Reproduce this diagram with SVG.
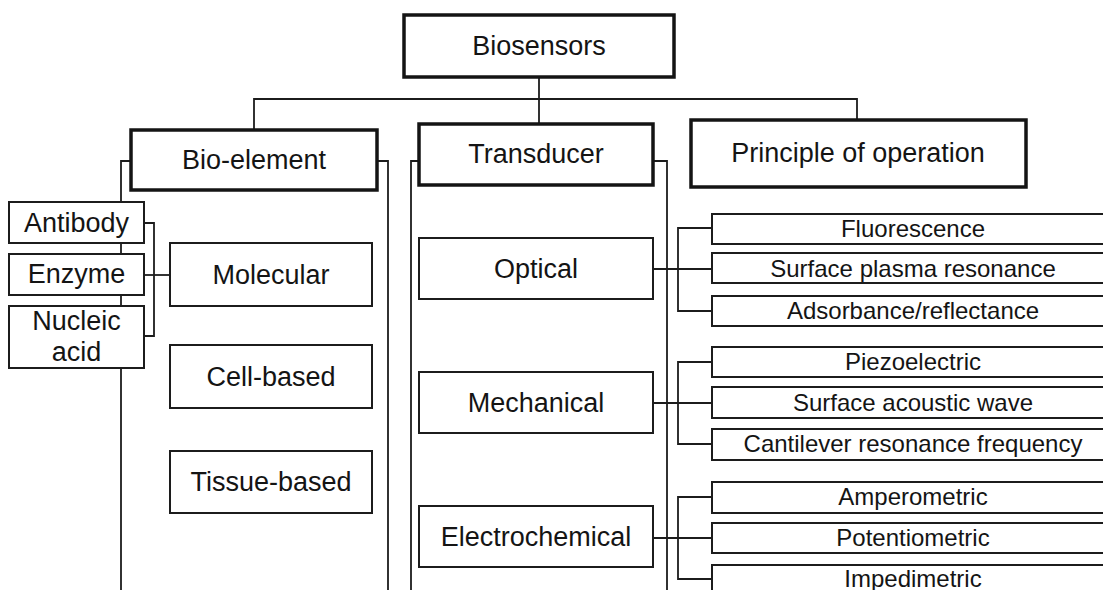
<svg xmlns="http://www.w3.org/2000/svg" width="1103" height="590" viewBox="0 0 1103 590">
  <style>
    .bg { fill: #ffffff; }
    .conn { fill: none; stroke: #1c1c1c; stroke-width: 1.8; }
    .main rect { fill: #ffffff; stroke: #141414; stroke-width: 3.5; }
    .box rect { fill: #ffffff; stroke: #1c1c1c; stroke-width: 2; }
    text { font-family: "Liberation Sans", Arial, Helvetica, sans-serif; fill: #141414; text-anchor: middle; }
    .lg { font-size: 27px; }
    .sm { font-size: 24px; }
  </style>

  <rect class="bg" x="0" y="0" width="1103" height="590"/>

  <!-- connectors -->
  <g id="connectors">
    <!-- root to the three categories -->
    <path class="conn" d="M539 77 V124"/>
    <path class="conn" d="M254 130 V99 H857 V120"/>
    <!-- side rails of Bio-element -->
    <path class="conn" d="M131 161 H121 V590"/>
    <path class="conn" d="M377 161 H388 V590"/>
    <!-- side rails of Transducer -->
    <path class="conn" d="M419 161 H411 V590"/>
    <path class="conn" d="M653 161 H667 V590"/>
    <!-- molecular receptors -->
    <path class="conn" d="M144 223 H154 V336 H144"/>
    <path class="conn" d="M144 275 H170"/>
    <!-- optical methods -->
    <path class="conn" d="M712 228 H678 V311 H712"/>
    <path class="conn" d="M653 269 H712"/>
    <!-- mechanical methods -->
    <path class="conn" d="M712 362 H678 V444 H712"/>
    <path class="conn" d="M653 403 H712"/>
    <!-- electrochemical methods -->
    <path class="conn" d="M712 497 H678 V579 H712"/>
    <path class="conn" d="M653 538 H712"/>
  </g>

  <!-- top level -->
  <g id="biosensors" class="main">
    <rect x="404" y="15" width="270" height="62"/>
    <text class="lg" x="539" y="54.5">Biosensors</text>
  </g>
  <g id="bio-element" class="main">
    <rect x="131" y="130" width="246" height="60"/>
    <text class="lg" x="254" y="169">Bio-element</text>
  </g>
  <g id="transducer" class="main">
    <rect x="419" y="124" width="234" height="61"/>
    <text class="lg" x="536" y="163">Transducer</text>
  </g>
  <g id="principle" class="main">
    <rect x="691" y="120" width="335" height="67"/>
    <text class="lg" x="858" y="162">Principle of operation</text>
  </g>

  <!-- bio-element branch -->
  <g id="antibody" class="box">
    <rect x="9" y="202" width="135" height="41"/>
    <text class="lg" x="76.5" y="231.5">Antibody</text>
  </g>
  <g id="enzyme" class="box">
    <rect x="9" y="254" width="135" height="41"/>
    <text class="lg" x="76.5" y="283">Enzyme</text>
  </g>
  <g id="nucleic-acid" class="box">
    <rect x="9" y="306" width="135" height="62"/>
    <text class="lg" x="76.5" y="330">Nucleic</text>
    <text class="lg" x="76.5" y="361">acid</text>
  </g>
  <g id="molecular" class="box">
    <rect x="170" y="243" width="202" height="63"/>
    <text class="lg" x="271" y="284">Molecular</text>
  </g>
  <g id="cell-based" class="box">
    <rect x="170" y="345" width="202" height="63"/>
    <text class="lg" x="271" y="385.5">Cell-based</text>
  </g>
  <g id="tissue-based" class="box">
    <rect x="170" y="451" width="202" height="62"/>
    <text class="lg" x="271" y="491">Tissue-based</text>
  </g>

  <!-- transducer branch -->
  <g id="optical" class="box">
    <rect x="419" y="238" width="234" height="61"/>
    <text class="lg" x="536" y="278">Optical</text>
  </g>
  <g id="mechanical" class="box">
    <rect x="419" y="372" width="234" height="61"/>
    <text class="lg" x="536" y="412">Mechanical</text>
  </g>
  <g id="electrochemical" class="box">
    <rect x="419" y="506" width="234" height="61"/>
    <text class="lg" x="536" y="546">Electrochemical</text>
  </g>

  <!-- principle of operation leaves -->
  <g id="fluorescence" class="box">
    <rect x="712" y="214" width="410" height="30"/>
    <text class="sm" x="913" y="237">Fluorescence</text>
  </g>
  <g id="surface-plasma-resonance" class="box">
    <rect x="712" y="253" width="410" height="30"/>
    <text class="sm" x="913" y="277">Surface plasma resonance</text>
  </g>
  <g id="adsorbance-reflectance" class="box">
    <rect x="712" y="296" width="410" height="30"/>
    <text class="sm" x="913" y="319">Adsorbance/reflectance</text>
  </g>
  <g id="piezoelectric" class="box">
    <rect x="712" y="347" width="410" height="30"/>
    <text class="sm" x="913" y="370">Piezoelectric</text>
  </g>
  <g id="surface-acoustic-wave" class="box">
    <rect x="712" y="387" width="410" height="31"/>
    <text class="sm" x="913" y="411">Surface acoustic wave</text>
  </g>
  <g id="cantilever" class="box">
    <rect x="712" y="429" width="410" height="31"/>
    <text class="sm" x="913" y="452">Cantilever resonance frequency</text>
  </g>
  <g id="amperometric" class="box">
    <rect x="712" y="482" width="410" height="31"/>
    <text class="sm" x="913" y="505">Amperometric</text>
  </g>
  <g id="potentiometric" class="box">
    <rect x="712" y="523" width="410" height="30"/>
    <text class="sm" x="913" y="546">Potentiometric</text>
  </g>
  <g id="impedimetric" class="box">
    <rect x="712" y="565" width="410" height="31"/>
    <text class="sm" x="913" y="587">Impedimetric</text>
  </g>
</svg>
